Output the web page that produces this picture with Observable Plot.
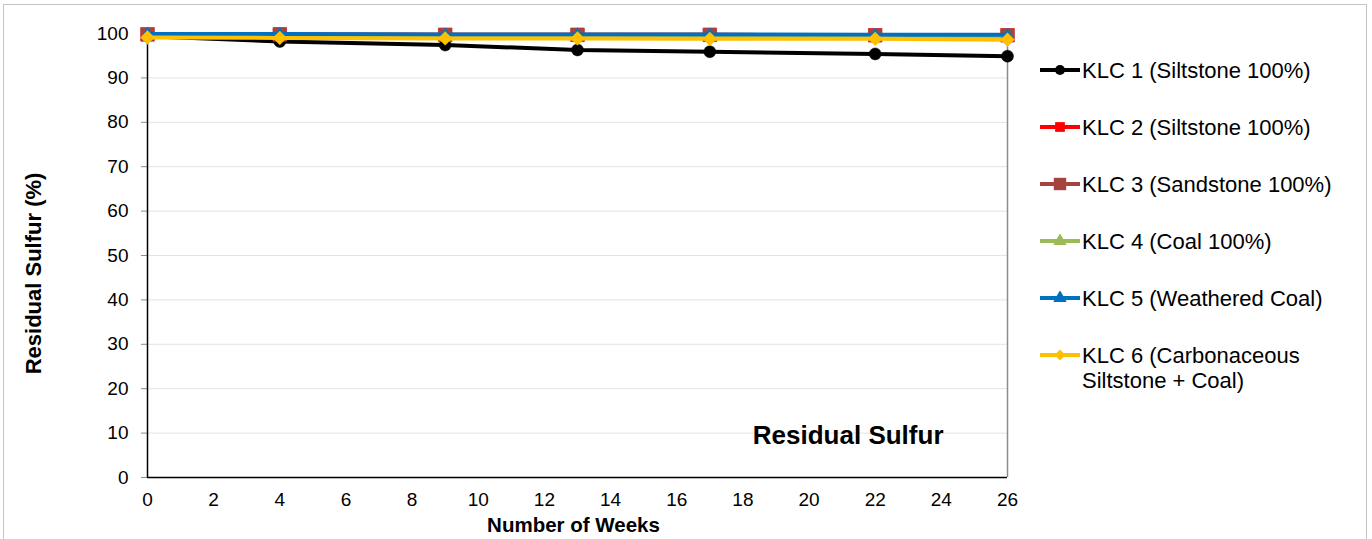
<!DOCTYPE html>
<html>
<head>
<meta charset="utf-8">
<script src="https://cdn.jsdelivr.net/npm/d3@7"></script>
<script src="https://cdn.jsdelivr.net/npm/@observablehq/plot@0.6"></script>
<style>
  html, body { margin: 0; padding: 0; background: #fff; }
  #wrap { position: relative; width: 1372px; height: 539px; overflow: hidden; font-family: "Liberation Sans", Arial, sans-serif; }
  #border { position: absolute; left: 3px; top: 4px; width: 1364px; height: 560px; border: 1.5px solid #c4c4c4; pointer-events: none; box-sizing: border-box; }
  #legend { position: absolute; left: 1040px; top: 0; }
  .item { position: absolute; left: 0; display: flex; align-items: flex-start; white-space: nowrap; font-size: 22px; line-height: 25px; color: #000; }
  .item svg { margin-top: 5.5px; margin-right: 2px; flex: none; }
</style>
</head>
<body>
<div id="wrap">
  <div id="chart"></div>
  <div id="legend"></div>
  <div id="border"></div>
</div>
<script>
// ---- data ----
const weeks = [0, 4, 9, 13, 17, 22, 26];
const seriesNames = [
  "KLC 1 (Siltstone 100%)",
  "KLC 2 (Siltstone 100%)",
  "KLC 3 (Sandstone 100%)",
  "KLC 4 (Coal 100%)",
  "KLC 5 (Weathered Coal)",
  "KLC 6 (Carbonaceous\nSiltstone + Coal)"
];
const klc1 = [99.4, 98.2, 97.4, 96.3, 95.9, 95.4, 94.9];
const klc2 = [99.8, 99.8, 99.7, 99.7, 99.7, 99.6, 99.6];
const klc3 = [99.8, 99.8, 99.7, 99.7, 99.7, 99.6, 99.6];
const klc4 = [99.7, 99.7, 99.6, 99.6, 99.6, 99.5, 99.5];
const klc5 = [99.9, 99.9, 99.8, 99.8, 99.8, 99.7, 99.7];
const klc6 = [99.1, 99.0, 98.9, 98.9, 98.8, 98.8, 98.6];
const seriesValues = [klc1, klc2, klc3, klc4, klc5, klc6];
const colors = ["#000000", "#FF0000", "#A5443F", "#9BBB59", "#0070C0", "#FFC000"];
const symbols = ["circle", "square", "square", "triangle", "triangle", "diamond2"];
const radii = [6, 7.6, 7.6, 4.3, 4.3, 6.2];
const xTicks = [0, 2, 4, 6, 8, 10, 12, 14, 16, 18, 20, 22, 24, 26];
const yTicks = [0, 10, 20, 30, 40, 50, 60, 70, 80, 90, 100];
const xTitle = "Number of Weeks";
const yTitle = "Residual Sulfur (%)";
const innerTitle = "Residual Sulfur";

// ---- build ----
const rows = seriesValues.map((vals, i) => vals.map((v, j) => ({week: weeks[j], value: v, series: i})));

const seriesMarks = rows.flatMap((data, i) => [
  Plot.line(data, {x: "week", y: "value", stroke: colors[i], strokeWidth: 4, curve: "linear"}),
  Plot.dot(data, {x: "week", y: "value", fill: colors[i], stroke: colors[i], strokeWidth: 0.5, symbol: () => symbols[i], r: radii[i]})
]);

const chart = Plot.plot({
  width: 1372,
  height: 539,
  marginLeft: 147,
  marginRight: 365,
  marginTop: 33,
  marginBottom: 62,
  style: {fontFamily: "'Liberation Sans', Arial, sans-serif", fontSize: "19px", color: "#000", background: "transparent"},
  x: {domain: [xTicks[0], xTicks[xTicks.length - 1]]},
  y: {domain: [yTicks[0], yTicks[yTicks.length - 1]]},
  symbol: {type: "identity"},
  marks: [
    Plot.gridY(yTicks, {stroke: "#e3e3e3", strokeOpacity: 1, strokeWidth: 1}),
    Plot.ruleX([xTicks[xTicks.length - 1]], {stroke: "#8c8c8c", strokeWidth: 1.5}),
    Plot.axisY(yTicks, {tickSize: 6, tickPadding: 13, stroke: "#8c8c8c", label: null, fontSize: 19}),
    Plot.axisX(xTicks, {tickSize: 0, tickPadding: 15, label: null, fontSize: 19}),
    Plot.ruleX([xTicks[0]], {stroke: "#000", strokeWidth: 1.5}),
    Plot.ruleY([yTicks[0]], {stroke: "#000", strokeWidth: 1.5}),
    ...seriesMarks,
    Plot.text([yTitle], {text: d => d, frameAnchor: "left", textAnchor: "middle", dx: -114, dy: 18, rotate: -90, fontWeight: "bold", fontSize: 22}),
    Plot.text([xTitle], {text: d => d, frameAnchor: "bottom", textAnchor: "middle", dx: -4, dy: 54, fontWeight: "bold", fontSize: 20.5}),
    Plot.text([innerTitle], {text: d => d, frameAnchor: "bottom-right", dx: -64, dy: -42, textAnchor: "end", lineAnchor: "middle", fontWeight: "bold", fontSize: 26})
  ]
});
document.getElementById("chart").appendChild(chart);

// ---- legend ----
const symMap = {circle: d3.symbolCircle, square: d3.symbolSquare, triangle: d3.symbolTriangle, diamond2: d3.symbolDiamond2};
const legendSizes = [5, 5.5, 7, 5, 5, 5];
const legend = d3.select("#legend");
seriesNames.forEach((name, i) => {
  const item = legend.append("div").attr("class", "item").style("top", (57.5 + 57 * i) + "px");
  const svg = item.append("svg").attr("width", 40).attr("height", 14);
  svg.append("line").attr("x1", 0).attr("x2", 40).attr("y1", 7).attr("y2", 7)
    .attr("stroke", colors[i]).attr("stroke-width", 4);
  const size = Math.PI * legendSizes[i] * legendSizes[i];
  svg.append("path").attr("transform", "translate(20,7)")
    .attr("d", d3.symbol(symMap[symbols[i]], size)())
    .attr("fill", colors[i]);
  item.append("div").style("white-space", "pre").text(name);
});
</script>
</body>
</html>
